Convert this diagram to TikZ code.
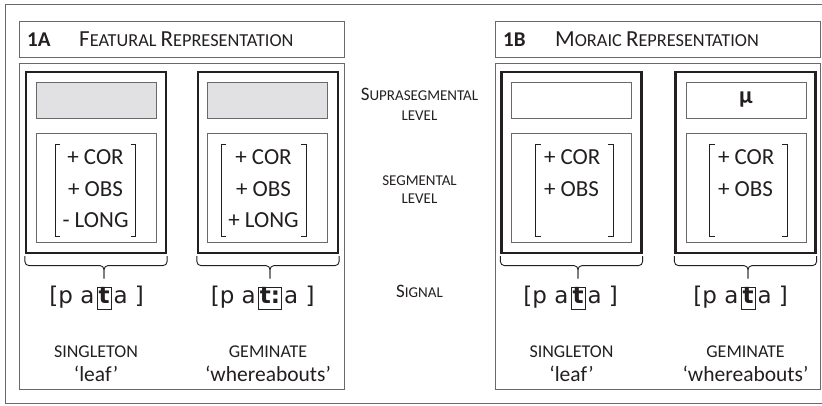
\documentclass[tikz,border=0pt]{standalone}
\usepackage{fontspec}
\setmainfont{Carlito}
\newfontfamily\ipafont{DejaVu Sans}
\usetikzlibrary{positioning}

\definecolor{ink}{RGB}{35,31,32}
\definecolor{fillgray}{RGB}{225,225,227}
\definecolor{linegray}{RGB}{105,105,105}

% larger capital for the faked small caps
\newcommand{\capL}[2][23]{{\fontsize{#1}{#1}\selectfont #2}}

\begin{document}
\begin{tikzpicture}[x=1pt, y=-1pt,
    text=ink,
    frame/.style={draw=linegray, line width=1pt},
    panel/.style={draw=linegray, line width=0.9pt, minimum width=325, minimum height=326, inner sep=0},
    title/.style={draw=linegray, line width=0.9pt, minimum width=325, minimum height=36, inner sep=0},
    level/.style={draw=ink, line width=2.2pt, minimum width=140, minimum height=181, inner sep=0},
    supra/.style={draw=linegray, line width=0.9pt, minimum width=120, minimum height=36, inner sep=0},
    seg/.style={draw=linegray, line width=0.9pt, minimum width=120, minimum height=109, inner sep=0},
    feat/.style={inner xsep=7pt, inner ysep=-1.5pt, font=\fontsize{23}{31.5}\selectfont},
    brk/.style={draw=ink, line width=0.8pt},
    tbox/.style={draw=ink, line width=0.8pt, inner xsep=1.5pt, inner ysep=1pt, text height=15pt, text depth=5pt, font=\ipafont\bfseries\fontsize{23}{26}\selectfont},
    ipa/.style={inner sep=0, font=\ipafont\fontsize{23}{26}\selectfont},
    brace/.style={draw=ink, line width=0.9pt, rounded corners=4pt},
    lbl/.style={inner sep=0, align=center, font=\fontsize{15}{20}\selectfont},
    cat/.style={inner sep=0, font=\fontsize{18}{20}\selectfont},
    gloss/.style={inner sep=0, font=\fontsize{21.5}{24}\selectfont}]

\useasboundingbox (0,0) rectangle (822,406);
\draw[frame] (5,5) rectangle (830,403);

% headings and panels
\node[title] (hA) at (181.5,39) {};
\node[title] (hB) at (657.5,39) {};
\node[panel] (pA) at (181.5,226) {};
\node[panel] (pB) at (657.5,226) {};

\node[anchor=base west, inner sep=0, font=\bfseries\fontsize{21}{22}\selectfont] (nA) at (27,47) {1A};
\node[anchor=base west, inner sep=0, font=\fontsize{18.3}{22}\selectfont] (tA) at (79,47) {\capL{F}EATURAL \capL{R}EPRESENTATION};
\node[anchor=base west, inner sep=0, font=\bfseries\fontsize{21}{22}\selectfont] (nB) at (503,47) {1B};
\node[anchor=base west, inner sep=0, font=\fontsize{18.3}{22}\selectfont] (tB) at (555,47) {\capL{M}ORAIC \capL{R}EPRESENTATION};

% level boxes
\node[level] (kAL) at (96,162.5) {};
\node[level] (kAR) at (268,162.5) {};
\node[level] (kBL) at (571.5,162.5) {};
\node[level] (kBR) at (745.5,162.5) {};

\node[supra, fill=fillgray] (uAL) at (96,100) {};
\node[supra, fill=fillgray] (uAR) at (267,100) {};
\node[supra] (uBL) at (571,100) {};
\node[supra, font=\bfseries\fontsize{24}{24}\selectfont] (uBR) at (746,100) {μ};

\node[seg] (gAL) at (96,187.5) {};
\node[seg] (gAR) at (267,187.5) {};
\node[seg] (gBL) at (571,187.5) {};
\node[seg] (gBR) at (746,187.5) {};

% feature matrices
\node[feat] (fAL) at (95.5,190) {\begin{tabular}{@{}c@{}}+ COR\\+ OBS\\- LONG\end{tabular}};
\node[feat] (fAR) at (263.5,190) {\begin{tabular}{@{}c@{}}+ COR\\+ OBS\\+ LONG\end{tabular}};
\node[feat, inner xsep=8pt] (fBL) at (574.5,190) {\begin{tabular}{@{}p{61pt}@{}}+ COR\\+ OBS\\\mbox{}\end{tabular}};
\node[feat, inner xsep=8pt] (fBR) at (748.5,190) {\begin{tabular}{@{}p{61pt}@{}}+ COR\\+ OBS\\\mbox{}\end{tabular}};

\foreach \f in {fAL,fAR,fBL,fBR}{
  \draw[brk] ([xshift=5pt]\f.north west) -- (\f.north west) -- (\f.south west) -- ([xshift=5pt]\f.south west);
  \draw[brk] ([xshift=-5pt]\f.north east) -- (\f.north east) -- (\f.south east) -- ([xshift=-5pt]\f.south east);
}

% signals
\node[tbox, anchor=base] (tAL) at (104,303) {t};
\node[ipa, left=2pt of tAL.base west, anchor=base east] (lAL) {[p a};
\node[ipa, right=2pt of tAL.base east, anchor=base west] (rAL) {a ]};

\node[tbox, anchor=base] (tAR) at (270,303) {t:};
\node[ipa, left=2pt of tAR.base west, anchor=base east] (lAR) {[p a};
\node[ipa, right=2pt of tAR.base east, anchor=base west] (rAR) {a ]};

\node[tbox, anchor=base] (tBL) at (578,303) {t};
\node[ipa, left=2pt of tBL.base west, anchor=base east] (lBL) {[p a};
\node[ipa, right=2pt of tBL.base east, anchor=base west] (rBL) {a ]};

\node[tbox, anchor=base] (tBR) at (748,303) {t};
\node[ipa, left=2pt of tBR.base west, anchor=base east] (lBR) {[p a};
\node[ipa, right=2pt of tBR.base east, anchor=base west] (rBR) {a ]};

% braces
\foreach \k/\t in {kAL/tAL,kAR/tAR,kBL/tBL,kBR/tBR}{
  \draw[brace] ([yshift=-2pt]\k.south west) |- ([yshift=21pt]\t.north) -- ([yshift=8pt]\t.north);
  \draw[brace] ([yshift=-2pt]\k.south east) |- ([yshift=21pt]\t.north) -- ([yshift=8pt]\t.north);
}

% level names
\node[lbl, anchor=base] (lvU) at (419.5,120.5) {\capL[19]{S}UPRASEGMENTAL\\LEVEL};
\node[lbl, anchor=base, font=\fontsize{15}{18}\selectfont] (lvS) at (419.5,204) {SEGMENTAL\\LEVEL};
\node[lbl, anchor=base] (lvG) at (419.5,297) {\capL[19]{S}IGNAL};

% categories and glosses
\node[cat, anchor=base] (cAL) at (96,357) {SINGLETON};
\node[gloss, anchor=base] (wAL) at (96,381) {`leaf'};
\node[cat, anchor=base] (cAR) at (268,357) {GEMINATE};
\node[gloss, anchor=base] (wAR) at (268,381) {`whereabouts'};
\node[cat, anchor=base] (cBL) at (571.5,357) {SINGLETON};
\node[gloss, anchor=base] (wBL) at (571.5,381) {`leaf'};
\node[cat, anchor=base] (cBR) at (745.5,357) {GEMINATE};
\node[gloss, anchor=base] (wBR) at (745.5,381) {`whereabouts'};
\end{tikzpicture}
\end{document}
